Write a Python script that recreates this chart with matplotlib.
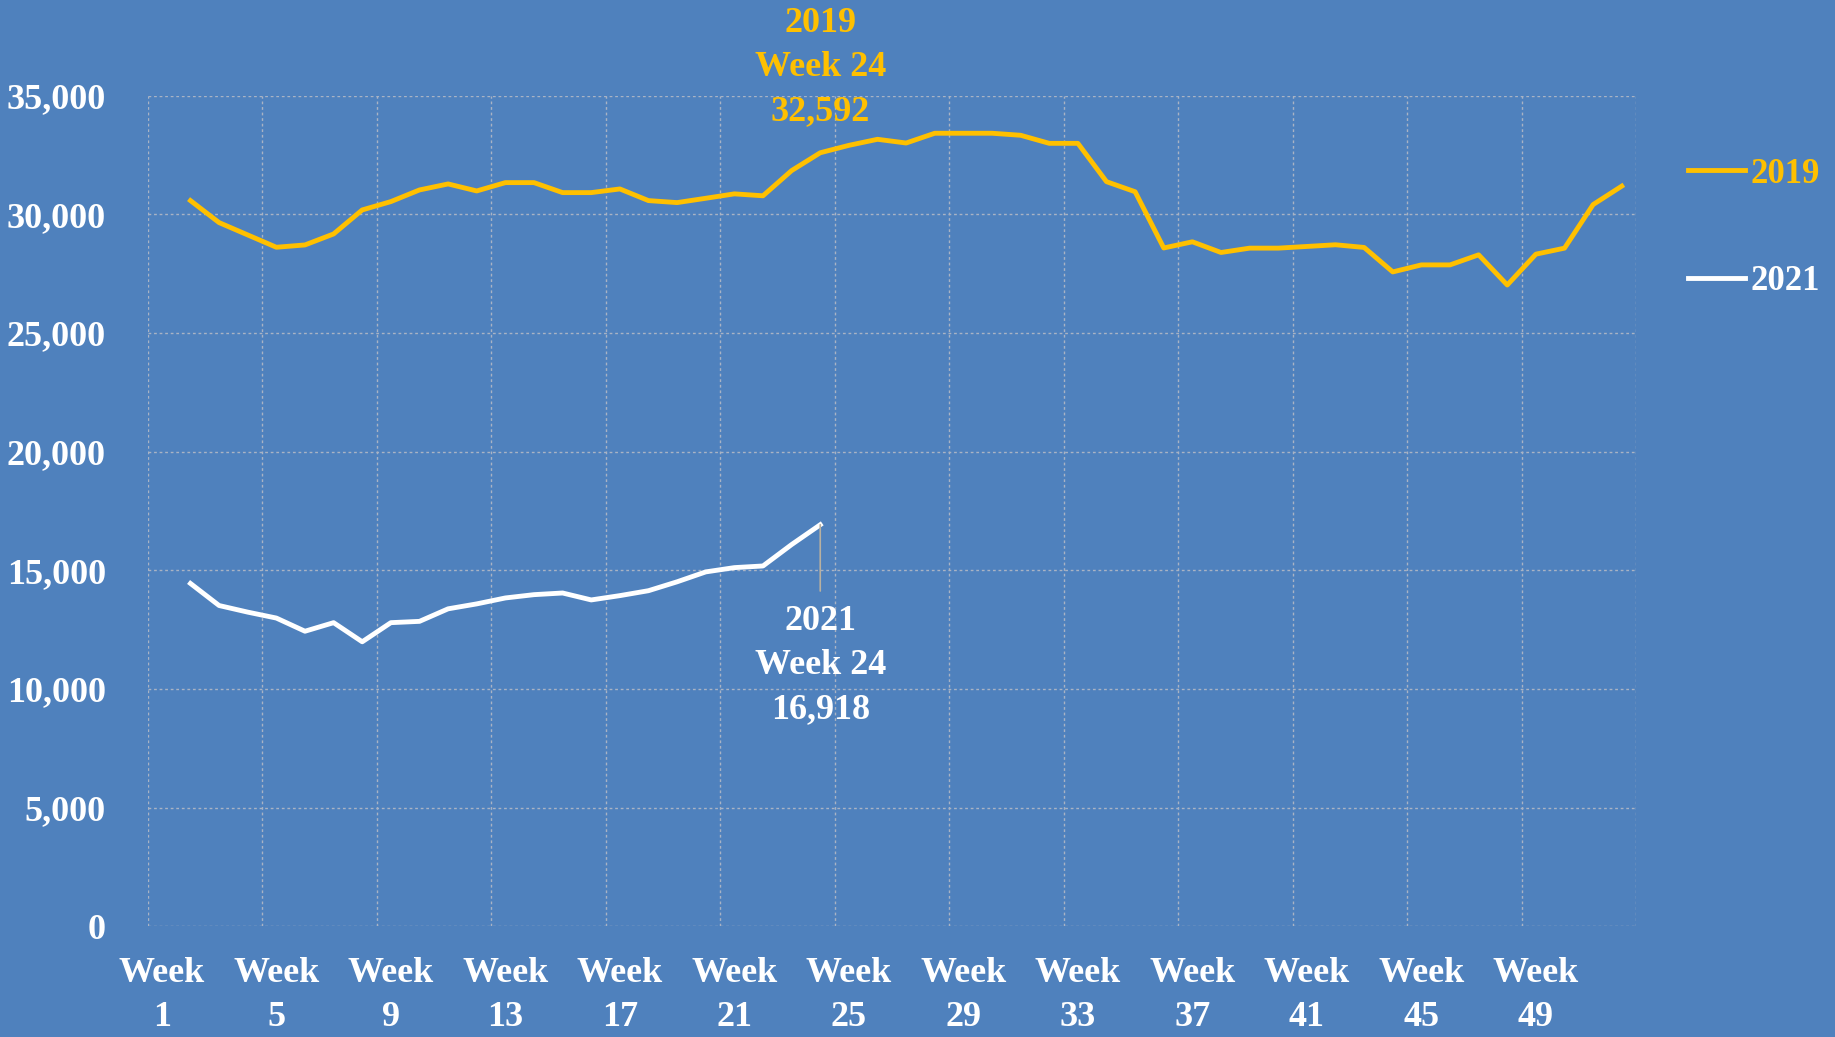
import numpy as np
import matplotlib
matplotlib.use('Agg')
import matplotlib.pyplot as plt

# weekly values (week 1 has no point)
weeks_2019 = list(range(2, 53))
vals_2019 = [30576, 29649, 29129, 28610, 28708, 29171, 30183, 30534, 31025, 31278,
             30983, 31334, 31334, 30913, 30913, 31067, 30576, 30492, 30674, 30860,
             30779, 31841, 32592, 32904, 33159, 33003, 33414, 33414, 33414, 33329,
             32989, 32989, 31374, 30949, 28580, 28840, 28390, 28573, 28573, 28644,
             28715, 28602, 27571, 27867, 27867, 28291, 27020, 28319, 28573, 30410,
             31186]

weeks_2021 = list(range(2, 25))
vals_2021 = [14444, 13514, 13236, 12986, 12431, 12792, 11986, 12792, 12847, 13375,
             13583, 13833, 13972, 14042, 13750, 13931, 14139, 14514, 14931, 15111,
             15181, 16083, 16918]

tick_weeks = list(range(1, 53, 4))
tick_labels = ['Week\n%d' % w for w in tick_weeks]
y_ticks = list(range(0, 35001, 5000))

BG = '#4F81BD'
GOLD = '#FFC000'
GRID = '#A9B3C4'

plt.rcParams['font.family'] = ['Liberation Serif', 'DejaVu Serif']
plt.rcParams['font.weight'] = 'bold'

fig = plt.figure(figsize=(18.35, 10.37), dpi=100, facecolor=BG)
ax = fig.add_axes([0.0804, 0.1068, 0.8112, 0.801])
ax.set_facecolor(BG)

l1, = ax.plot(weeks_2019, vals_2019, color=GOLD, lw=3.5, label='2019', solid_joinstyle='round')
l2, = ax.plot(weeks_2021, vals_2021, color='white', lw=3.5, label='2021', solid_joinstyle='round')

ax.set_xlim(0.5, 52.5)
ax.set_ylim(0, 35000)

# gridlines sit on category boundaries every 4 weeks
ax.set_xticks(np.arange(0.5, 53, 4), minor=True)
ax.set_xticks(tick_weeks)
ax.set_xticklabels(tick_labels, fontsize=26, color='white', fontweight='bold', linespacing=1.45)
ax.set_yticks(y_ticks)
ax.set_yticklabels(['{:,}'.format(v) for v in y_ticks], fontsize=26, color='white', fontweight='bold')
ax.tick_params(axis='x', which='both', length=0, pad=22)
ax.tick_params(axis='y', length=0, pad=30)
ax.grid(False)
ax.grid(True, axis='x', which='minor', color=GRID, ls=(0, (2, 2)), lw=1)
ax.grid(True, axis='y', which='major', color=GRID, ls=(0, (2, 2)), lw=1)
for s in ax.spines.values():
    s.set_visible(False)

# callouts at week 24
i19 = weeks_2019.index(24)
i21 = weeks_2021.index(24)
ax.text(24, 36180, '2019\nWeek 24\n{:,}'.format(vals_2019[i19]), color=GOLD,
        fontsize=26, fontweight='bold', ha='center', va='center', linespacing=1.45,
        clip_on=False)
ax.annotate('2021\nWeek 24\n{:,}'.format(vals_2021[i21]), xy=(24, vals_2021[i21]),
            xytext=(24, 10980), color='white', fontsize=26, fontweight='bold',
            ha='center', va='center', linespacing=1.45,
            arrowprops=dict(arrowstyle='-', color='#B8B0A0', lw=1.2, shrinkA=8, shrinkB=0))

leg = fig.legend(handles=[l1, l2], loc='upper left', bbox_to_anchor=(0.92, 0.848),
                 frameon=False, fontsize=25, handlelength=1.65, handletextpad=0.15,
                 labelspacing=2.15, borderpad=0, borderaxespad=0)
for t, c in zip(leg.get_texts(), [GOLD, 'white']):
    t.set_color(c)
    t.set_fontweight('bold')

fig.savefig('out.png', dpi=100, facecolor=BG)
